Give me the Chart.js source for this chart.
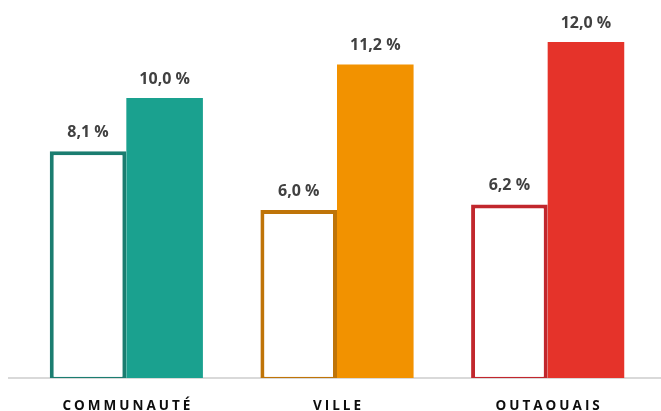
<!DOCTYPE html>
<html>
<head>
<meta charset="utf-8">
<script src="https://cdn.jsdelivr.net/npm/chart.js@4"></script>
<style>
html,body{margin:0;padding:0;background:#fff;}
#wrap{width:661px;height:411px;position:relative;}
</style>
</head>
<body>
<div id="wrap"><canvas id="c" width="661" height="411"></canvas></div>
<script>
const categories = ["COMMUNAUTÉ", "VILLE", "OUTAOUAIS"];
const seriesOutline = [8.1, 6.0, 6.2];
const seriesFilled = [10.0, 11.2, 12.0];
const outlineColors = ["#1b7d70", "#bf7408", "#c1272d"];
const fillColors = ["#1aa18f", "#f29200", "#e5332a"];

function fmt(v){ return v.toFixed(1).replace('.', ',') + ' %'; }

const customPlugin = {
  id: 'custom',
  beforeDatasetsDraw(chart){
    const ctx = chart.ctx;
    const y = chart.chartArea.bottom;
    ctx.save();
    ctx.strokeStyle = '#d9d9d9';
    ctx.lineWidth = 2;
    ctx.beginPath();
    ctx.moveTo(8, y);
    ctx.lineTo(661, y);
    ctx.stroke();
    ctx.restore();
  },
  afterDatasetsDraw(chart){
    const ctx = chart.ctx;
    ctx.save();
    ctx.fillStyle = '#404040';
    ctx.font = 'bold 16px "Open Sans", sans-serif';
    ctx.textAlign = 'center';
    ctx.textBaseline = 'alphabetic';
    chart.data.datasets.forEach((ds, di) => {
      const meta = chart.getDatasetMeta(di);
      meta.data.forEach((bar, i) => {
        ctx.fillText(fmt(ds.data[i]), bar.x, bar.y - 14);
      });
    });
    const xs = chart.scales.x;
    ctx.fillStyle = '#0d0d0d';
    ctx.font = 'bold 13.5px "Open Sans", sans-serif';
    try { ctx.letterSpacing = '3px'; } catch(e) {}
    categories.forEach((c, i) => {
      ctx.fillText(c, xs.getPixelForValue(i) + 1.5, 410);
    });
    ctx.restore();
  }
};

new Chart(document.getElementById('c'), {
  type: 'bar',
  data: {
    labels: categories,
    datasets: [
      {
        data: seriesOutline,
        backgroundColor: '#ffffff',
        borderColor: outlineColors,
        borderWidth: 4,
        borderSkipped: false,
        base: -0.1,
        categoryPercentage: 0.727,
        barPercentage: 1.0
      },
      {
        data: seriesFilled,
        backgroundColor: fillColors,
        borderWidth: 0,
        categoryPercentage: 0.727,
        barPercentage: 1.0
      }
    ]
  },
  options: {
    responsive: false,
    animation: false,
    layout: { padding: { left: 21, right: 8, top: 0, bottom: 0 } },
    plugins: { legend: { display: false }, tooltip: { enabled: false } },
    scales: {
      x: {
        grid: { display: false },
        border: { display: false },
        ticks: { display: false },
        afterFit(s){ s.height = 33; }
      },
      y: {
        display: false,
        min: 0,
        max: 13.5
      }
    }
  },
  plugins: [customPlugin]
});
</script>
</body>
</html>
